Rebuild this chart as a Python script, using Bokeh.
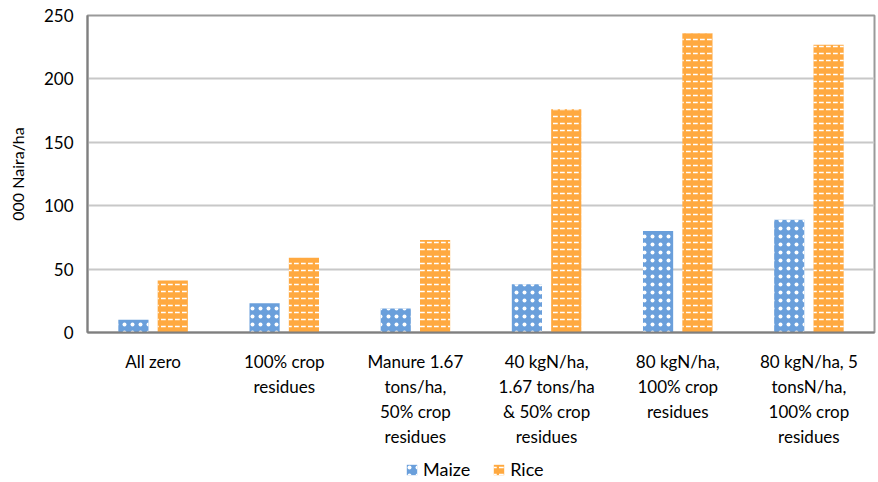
from bokeh.plotting import figure
from bokeh.layouts import column
from bokeh.models import ColumnDataSource, FactorRange, Legend, LegendItem
from bokeh.transform import dodge
from bokeh.embed import file_html
from bokeh.resources import INLINE

categories = [
    "All zero",
    "100% crop\nresidues",
    "Manure 1.67\ntons/ha,\n50% crop\nresidues",
    "40 kgN/ha,\n1.67 tons/ha\n& 50% crop\nresidues",
    "80 kgN/ha,\n100% crop\nresidues",
    "80 kgN/ha, 5\ntonsN/ha,\n100% crop\nresidues",
]
maize = [10, 23, 19, 38, 80, 89]
rice = [41, 59, 73, 176, 236, 227]
y_ticks = [0, 50, 100, 150, 200, 250]
series = ["Maize", "Rice"]

FONT = "Lato"
MAIZE_STYLE = dict(fill_color="#6A9FDB", line_color=None, hatch_pattern=".",
                   hatch_color="white", hatch_scale=8, hatch_weight=5)
RICE_STYLE = dict(fill_color="#FFA940", line_color=None, hatch_pattern='"',
                  hatch_color="white", hatch_scale=7, hatch_weight=1.5)

src = ColumnDataSource(dict(cat=categories, maize=maize, rice=rice))

p = figure(x_range=FactorRange(*categories), y_range=(0, 250),
           width=878, height=450, output_backend="svg", toolbar_location=None,
           min_border_left=87, min_border_right=4, min_border_top=15, min_border_bottom=113)

p.vbar(x=dodge("cat", -0.15, range=p.x_range), top="maize", width=0.23, source=src, **MAIZE_STYLE)
p.vbar(x=dodge("cat", 0.15, range=p.x_range), top="rice", width=0.23, source=src, **RICE_STYLE)

p.yaxis.ticker = y_ticks
p.yaxis.axis_label = "000 Naira/ha"
p.yaxis.axis_label_text_font = FONT
p.yaxis.axis_label_text_font_style = "normal"
p.yaxis.axis_label_text_font_size = "16px"
p.yaxis.axis_label_text_color = "#000000"
p.yaxis.axis_label_standoff = 14
for ax in (p.xaxis, p.yaxis):
    ax.major_label_text_font = FONT
    ax.major_label_text_font_size = "17px"
    ax.major_label_text_color = "#000000"
    ax.major_tick_line_color = None
    ax.minor_tick_line_color = None
    ax.axis_line_color = "#7f7f7f"
    ax.axis_line_width = 2
p.yaxis.major_label_standoff = 8
p.xaxis.major_label_standoff = 12

p.xgrid.grid_line_color = None
p.ygrid.grid_line_color = "#c8c8c8"
p.ygrid.grid_line_width = 2
p.outline_line_color = "#9a9a9a"
p.outline_line_width = 2
p.x_range.range_padding = 0
p.x_range.group_padding = 0

# legend strip (swatch renderers sit outside the visible range)
lg = figure(width=878, height=30, output_backend="svg", toolbar_location=None,
            x_range=(0, 1), y_range=(0, 1), min_border=0)
lg.axis.visible = False
lg.grid.visible = False
lg.outline_line_color = None
swatch = ColumnDataSource(dict(x=[-10], top=[-10]))
m = lg.vbar(x="x", top="top", width=0.1, source=swatch, **MAIZE_STYLE)
r = lg.vbar(x="x", top="top", width=0.1, source=swatch, **RICE_STYLE)
legend = Legend(items=[LegendItem(label=series[0], renderers=[m]),
                       LegendItem(label=series[1], renderers=[r])],
                orientation="horizontal", location=(318, 0),
                label_text_font=FONT, label_text_font_size="18px",
                label_text_color="#000000",
                glyph_width=13, glyph_height=13, spacing=22,
                border_line_color=None, background_fill_alpha=0, padding=2, margin=0)
lg.add_layout(legend, "center")

open("out.html", "w").write(file_html(column(p, lg, spacing=0), INLINE))
